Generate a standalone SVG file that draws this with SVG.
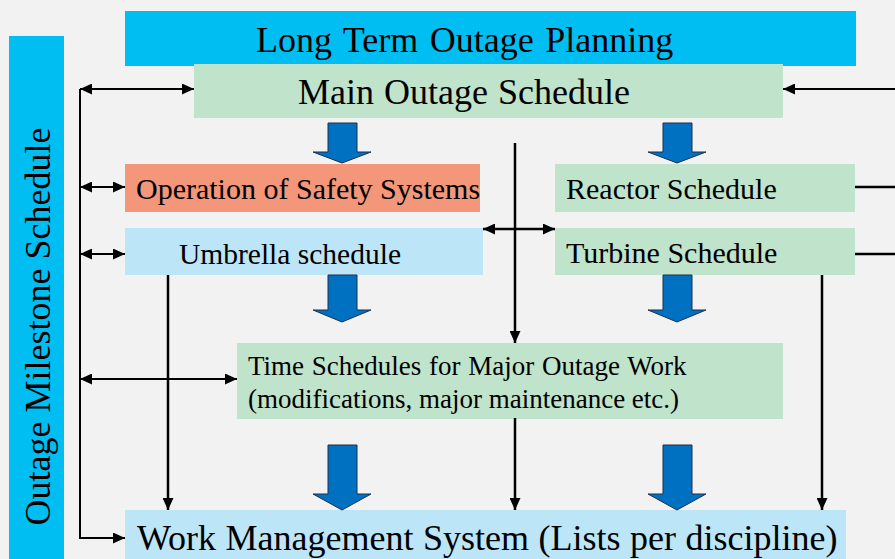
<svg xmlns="http://www.w3.org/2000/svg" width="895" height="559" viewBox="0 0 895 559">
<style>
.t{font-family:"Liberation Serif","Times New Roman",serif;fill:#000}
.ln{stroke:#000;fill:none}
.blk{fill:#0070c0;stroke:#1f2f4f;stroke-width:1}
</style>
<defs>
<marker id="ah" viewBox="0 0 12 12" refX="12" refY="6" markerWidth="12" markerHeight="11" markerUnits="userSpaceOnUse" orient="auto-start-reverse" preserveAspectRatio="none">
<path d="M0,0 L12,6 L0,12 Z" fill="#000"/>
</marker>
</defs>
<rect width="895" height="559" fill="#f2f2f2"/>

<g id="long-term">
<rect x="125" y="11" width="731" height="55" fill="#00bef2"/>
<text class="t" x="256" y="52" font-size="36" word-spacing="2.5">Long Term Outage Planning</text>
</g>
<g id="milestone">
<rect x="9" y="36" width="55" height="523" fill="#00bef2"/>
<text class="t" font-size="36" text-anchor="middle" transform="translate(50,326.5) rotate(-90)">Outage Milestone Schedule</text>
</g>
<g id="main">
<rect x="194" y="64" width="589" height="54" fill="#bfe3cb"/>
<text class="t" x="298" y="104" font-size="36" word-spacing="1">Main Outage Schedule</text>
</g>
<g id="safety">
<rect x="125" y="164" width="355" height="48" fill="#f4967a"/>
<text class="t" x="136" y="199" font-size="30">Operation of Safety Systems</text>
</g>
<g id="umbrella">
<rect x="125" y="228" width="358" height="47" fill="#bce5f8"/>
<text class="t" x="179" y="264" font-size="29.5">Umbrella schedule</text>
</g>
<g id="reactor">
<rect x="555" y="164" width="300" height="48" fill="#bfe3cb"/>
<text class="t" x="566" y="199" font-size="30">Reactor Schedule</text>
</g>
<g id="turbine">
<rect x="555" y="228" width="300" height="47" fill="#bfe3cb"/>
<text class="t" x="566" y="263" font-size="30">Turbine Schedule</text>
</g>
<g id="time">
<rect x="237" y="343" width="546" height="76" fill="#bfe3cb"/>
<text class="t" x="248" y="375" font-size="27" word-spacing="1">Time Schedules for Major Outage Work</text>
<text class="t" x="248" y="408" font-size="27">(modifications, major maintenance etc.)</text>
</g>
<g id="wms">
<rect x="125" y="510" width="721" height="49" fill="#bce5f8"/>
<text class="t" x="137" y="550" font-size="36" word-spacing="0.5">Work Management System (Lists per discipline)</text>
</g>

<g id="block-arrows">
<path class="blk" d="M328,123 H357 V152 H371 L342,163 L313,152 H328 Z"/>
<path class="blk" d="M663,123 H692 V152 H706 L677,163 L648,152 H663 Z"/>
<path class="blk" d="M328,275 H357 V310 H371 L342,322 L313,310 H328 Z"/>
<path class="blk" d="M663,275 H692 V310 H706 L677,322 L648,310 H663 Z"/>
<path class="blk" d="M328,445 H357 V494 H371 L342,510 L313,494 H328 Z"/>
<path class="blk" d="M663,445 H692 V494 H706 L677,510 L648,494 H663 Z"/>
</g>

<g id="connectors">
<path class="ln" stroke-width="2" d="M80,89 V538 H125" marker-end="url(#ah)"/>
<path class="ln" stroke-width="2" d="M80,89 H194" marker-start="url(#ah)" marker-end="url(#ah)"/>
<path class="ln" stroke-width="2" d="M80,187 H125" marker-start="url(#ah)" marker-end="url(#ah)"/>
<path class="ln" stroke-width="2" d="M80,254 H125" marker-start="url(#ah)" marker-end="url(#ah)"/>
<path class="ln" stroke-width="2" d="M80,379 H237" marker-start="url(#ah)" marker-end="url(#ah)"/>
<path class="ln" stroke-width="2" d="M895,89 H783" marker-end="url(#ah)"/>
<path class="ln" stroke-width="2.5" d="M855,187 H895"/>
<path class="ln" stroke-width="2.5" d="M855,254 H895"/>
<path class="ln" stroke-width="2.5" d="M483,229 H555" marker-start="url(#ah)" marker-end="url(#ah)"/>
<path class="ln" stroke-width="2.5" d="M515,143 V343" marker-end="url(#ah)"/>
<path class="ln" stroke-width="2.5" d="M515,418 V510" marker-end="url(#ah)"/>
<path class="ln" stroke-width="2.5" d="M168,275 V510" marker-end="url(#ah)"/>
<path class="ln" stroke-width="2.5" d="M822,275 V510" marker-end="url(#ah)"/>
</g>
</svg>
